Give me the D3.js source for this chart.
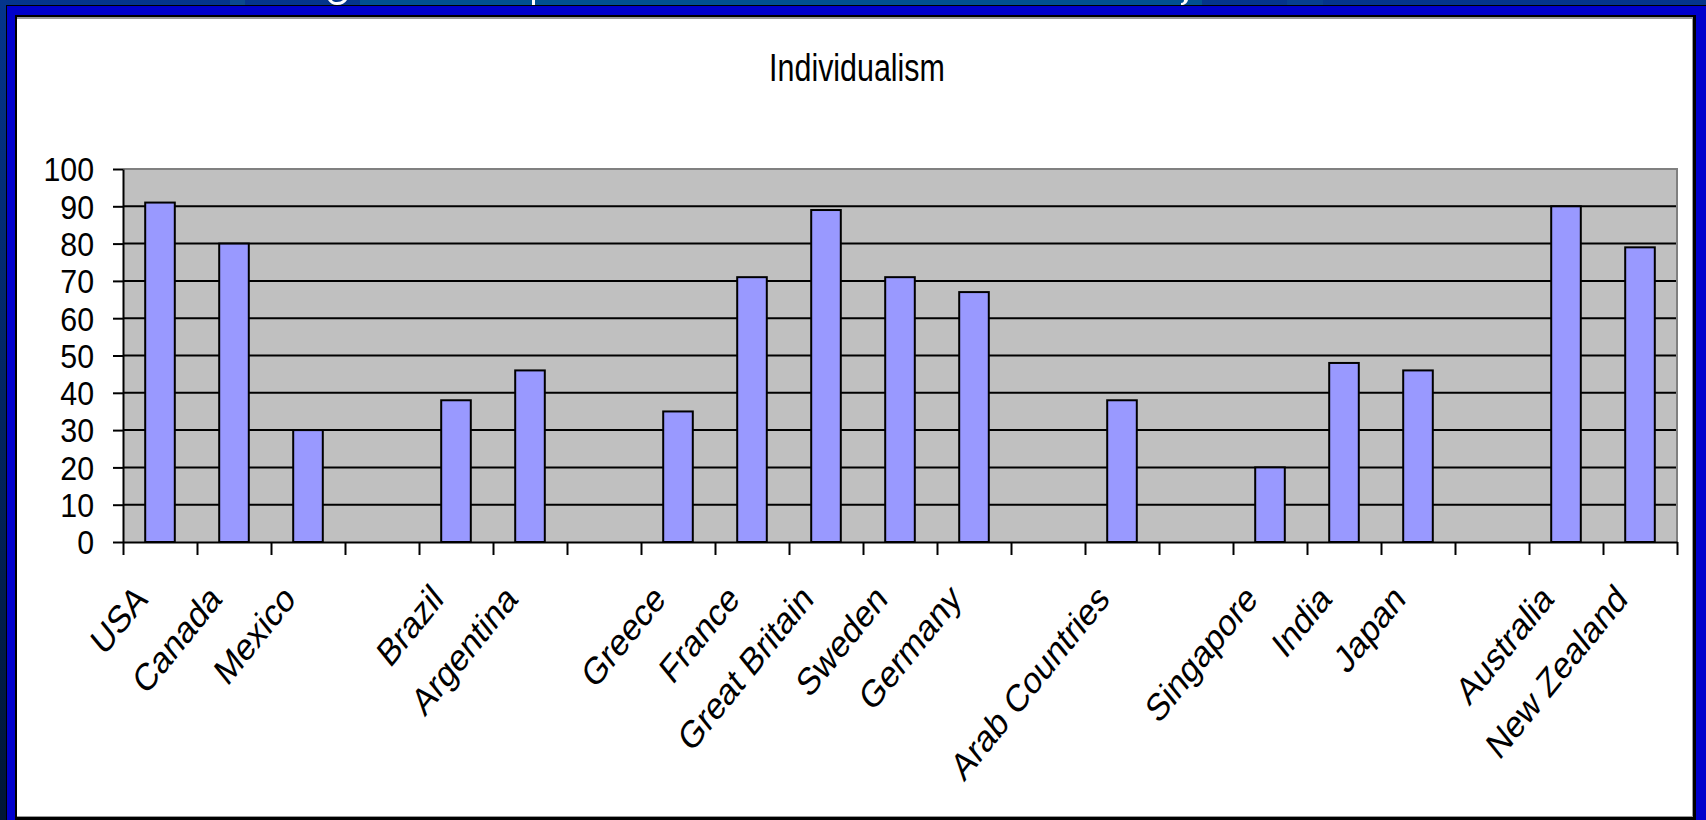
<!DOCTYPE html>
<html>
<head>
<meta charset="utf-8">
<script src="https://cdn.jsdelivr.net/npm/d3@7"></script>
<style>
  html, body { margin: 0; padding: 0; background: #003080; overflow: hidden; }
  svg { display: block; }
  text { font-family: "Liberation Sans", Arial, sans-serif; fill: #000; }
</style>
</head>
<body>
<svg id="chart" width="1706" height="820"></svg>
<script>
// Individualism index by country (blank entries are spacer columns between regions)
const categories = ["USA", "Canada", "Mexico", "", "Brazil", "Argentina", "",
  "Greece", "France", "Great Britain", "Sweden", "Germany", "",
  "Arab Countries", "", "Singapore", "India", "Japan", "", "Australia", "New Zealand"];
const values = [91, 80, 30, null, 38, 46, null,
  35, 71, 89, 71, 67, null,
  38, null, 20, 48, 46, null, 90, 79];
const yTicks = [0, 10, 20, 30, 40, 50, 60, 70, 80, 90, 100];
const chartTitle = "Individualism";

const W = 1706, H = 820;
const svg = d3.select("#chart");

// ---- slide background and frame ----
const defs = svg.append("defs");
const bg = defs.append("linearGradient").attr("id", "bgGrad")
  .attr("x1", 0).attr("y1", 0).attr("x2", 0).attr("y2", 1);
bg.append("stop").attr("offset", "0%").attr("stop-color", "#04358c");
bg.append("stop").attr("offset", "100%").attr("stop-color", "#001636");
svg.append("rect").attr("width", W).attr("height", H).attr("fill", "url(#bgGrad)");

// slide heading band peeking above the frame
svg.append("rect").attr("x", 230).attr("y", 0).attr("width", 15).attr("height", 6).attr("fill", "#0a4a8e");
svg.append("rect").attr("x", 360).attr("y", 0).attr("width", 842).attr("height", 6).attr("fill", "#005090");
svg.append("rect").attr("x", 1287).attr("y", 0).attr("width", 36).attr("height", 6).attr("fill", "#063f8e");
svg.append("path").attr("d", "M328,0 Q331,5 337,5 Q344,5 347,0 L343,0 Q341,2 337,2 Q333,2 332,0 Z").attr("fill", "#fff");
svg.append("rect").attr("x", 532).attr("y", 0).attr("width", 3).attr("height", 5).attr("fill", "#fff");
svg.append("path").attr("d", "M1184,0 L1188,0 Q1187,4 1183,5 L1181,5 L1181,3 Q1184,3 1184,0 Z").attr("fill", "#fff");

// blue frame with black edges
svg.append("rect").attr("x", 6).attr("y", 5).attr("width", W - 6).attr("height", H - 5).attr("fill", "#000");
svg.append("rect").attr("x", 7).attr("y", 6).attr("width", W - 7).attr("height", H - 6).attr("fill", "#0000cc");
svg.append("rect").attr("x", 15).attr("y", 15).attr("width", 1681).attr("height", H - 15).attr("fill", "#000");
svg.append("rect").attr("x", 17).attr("y", 17).attr("width", 1676).attr("height", 800).attr("fill", "#9a9a9a");
svg.append("rect").attr("x", 17).attr("y", 19).attr("width", 1675).attr("height", 797).attr("fill", "#fff");

// ---- chart ----
const plot = { left: 123, right: 1677, top: 169, bottom: 542 };

const x = d3.scaleBand()
  .domain(d3.range(categories.length))
  .range([plot.left, plot.right])
  .paddingInner(0.6)
  .paddingOuter(0.3);

// category boundaries for the tick marks
const xEdge = d3.scaleLinear().domain([0, categories.length]).range([plot.left, plot.right]);

const y = d3.scaleLinear().domain([0, 100]).range([plot.bottom, plot.top]);

// plot area
svg.append("rect")
  .attr("x", plot.left).attr("y", plot.top)
  .attr("width", plot.right - plot.left).attr("height", plot.bottom - plot.top)
  .attr("fill", "#c0c0c0");

// gridlines
svg.append("g").selectAll("line")
  .data(yTicks.filter(d => d > 0 && d < 100))
  .join("line")
  .attr("x1", plot.left).attr("x2", plot.right)
  .attr("y1", d => y(d)).attr("y2", d => y(d))
  .attr("stroke", "#000").attr("stroke-width", 2);

// plot border (top and right)
svg.append("path")
  .attr("d", `M${plot.left},${plot.top}H${plot.right}V${plot.bottom}`)
  .attr("fill", "none").attr("stroke", "#808080").attr("stroke-width", 2);

// bars
svg.append("g").selectAll("rect")
  .data(values.map((v, i) => ({ i, v })).filter(d => d.v != null))
  .join("rect")
  .attr("x", d => x(d.i))
  .attr("y", d => y(d.v))
  .attr("width", x.bandwidth())
  .attr("height", d => y(0) - y(d.v))
  .attr("fill", "#9999ff")
  .attr("stroke", "#000")
  .attr("stroke-width", 2);

// y axis
const yLabelSx = 0.92;
const yAxis = svg.append("g")
  .attr("transform", `translate(${plot.left},0)`)
  .call(d3.axisLeft(y).tickValues(yTicks).tickSize(10).tickPadding(19).tickSizeOuter(0));
yAxis.select(".domain").attr("stroke", "#000").attr("stroke-width", 2);
yAxis.selectAll(".tick line").attr("stroke", "#000").attr("stroke-width", 2);
yAxis.selectAll(".tick text")
  .attr("font-size", 33)
  .attr("font-family", "Liberation Sans, Arial, sans-serif")
  .attr("fill", "#000")
  .attr("x", -29 / yLabelSx)
  .attr("transform", `scale(${yLabelSx},1)`)
  .attr("dy", "0.36em");

// x axis: ticks on category boundaries
const xAxis = svg.append("g")
  .attr("transform", `translate(0,${plot.bottom})`)
  .call(d3.axisBottom(xEdge).tickValues(d3.range(categories.length + 1)).tickSize(13).tickFormat("").tickSizeOuter(0));
xAxis.select(".domain").attr("stroke", "#000").attr("stroke-width", 2);
xAxis.selectAll(".tick line").attr("stroke", "#000").attr("stroke-width", 2);

// rotated category labels (narrowed, as in the source chart)
svg.append("g").selectAll("text")
  .data(categories.map((c, i) => ({ c, i })).filter(d => d.c !== ""))
  .join("text")
  .attr("transform", d => `translate(${x(d.i) + x.bandwidth() / 2 - 11},601) scale(0.81,1) rotate(-45)`)
  .attr("text-anchor", "end")
  .attr("font-size", 38.5)
  .text(d => d.c);

// title
svg.append("text")
  .attr("transform", "translate(857,81) scale(0.78,1)")
  .attr("text-anchor", "middle")
  .attr("font-size", 39)
  .text(chartTitle);
</script>
</body>
</html>
